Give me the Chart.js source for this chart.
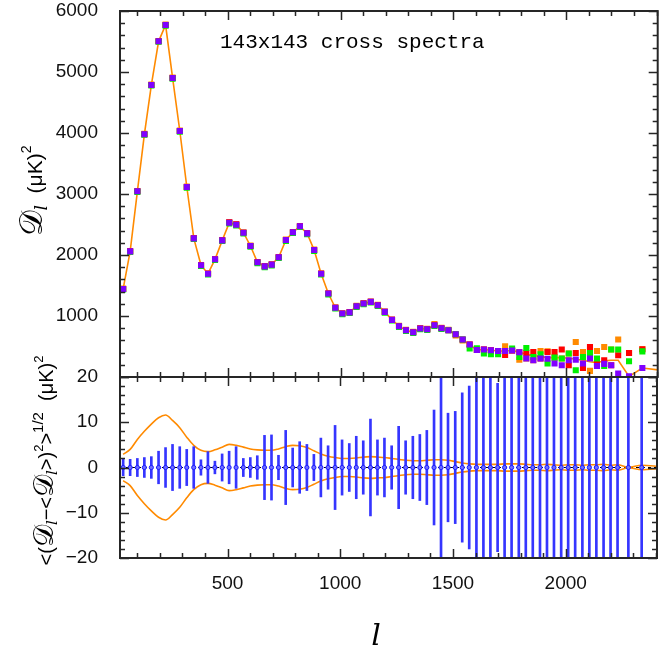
<!DOCTYPE html>
<html>
<head>
<meta charset="utf-8">
<script src="https://cdn.jsdelivr.net/npm/chart.js@4.4.0/dist/chart.umd.min.js"></script>
<style>
  body { margin: 0; background: #fff; }
  #wrap { position: relative; width: 662px; height: 655px; overflow: hidden; }
  .panel { position: absolute; left: 0; width: 662px; }
  #top { top: 0; height: 390px; }
  #bottom { top: 330px; height: 325px; }
</style>
</head>
<body>
<div id="wrap">
  <div class="panel" id="bottom"><canvas id="lowerChart"></canvas></div>
  <div class="panel" id="top"><canvas id="upperChart"></canvas></div>
</div>
<script>
// multipole bin centres
const ells = [37, 68, 100, 131, 162, 194, 225, 256, 288, 319,
  350, 382, 413, 444, 476, 507, 538, 570, 601, 632,
  664, 695, 726, 758, 789, 820, 852, 883, 914, 946,
  977, 1008, 1040, 1071, 1102, 1134, 1165, 1196, 1228, 1259,
  1290, 1322, 1353, 1384, 1416, 1447, 1478, 1510, 1541, 1572,
  1604, 1635, 1666, 1698, 1729, 1760, 1792, 1823, 1854, 1886,
  1917, 1948, 1980, 2011, 2042, 2074, 2105, 2136, 2168, 2199,
  2230, 2278, 2337];
// the orange curves run on to the right edge
const lineEll = ells.concat([2420]);

// upper panel: D_l of each cross spectrum
const dPurple = [1443, 2060, 3044, 3979, 4787, 5503, 5770, 4902, 4033, 3115,
  2273, 1831, 1694, 1929, 2240, 2530, 2497, 2366, 2148, 1880,
  1814, 1842, 1962, 2246, 2372, 2470, 2355, 2082, 1694, 1368,
  1135, 1040, 1060, 1161, 1205, 1232, 1177, 1067, 936, 833,
  767, 734, 795, 783, 849, 800, 767, 701, 614, 532,
  443, 450, 438, 427, 427, 434, 405, 302, 274, 302,
  300, 220, 192, 274, 285, 220, 302, 180, 215, 192,
  55, 10, 148];
const dGreen = [1435, 2050, 3035, 3970, 4778, 5495, 5760, 4892, 4022, 3105,
  2262, 1820, 1683, 1918, 2230, 2518, 2485, 2355, 2136, 1866,
  1800, 1830, 1950, 2232, 2360, 2458, 2342, 2068, 1680, 1355,
  1122, 1028, 1048, 1150, 1193, 1220, 1165, 1055, 925, 822,
  755, 722, 783, 771, 837, 788, 767, 701, 614, 466,
  470, 384, 373, 373, 427, 466, 328, 476, 328, 373,
  220, 318, 302, 384, 110, 328, 394, 302, 180, 450,
  450, 258, 420];
const dRed = [1443, 2060, 3044, 3979, 4787, 5503, 5770, 4902, 4033, 3115,
  2273, 1831, 1694, 1929, 2240, 2536, 2503, 2366, 2148, 1880,
  1814, 1842, 1962, 2246, 2372, 2470, 2355, 2082, 1694, 1368,
  1135, 1040, 1060, 1161, 1205, 1232, 1177, 1067, 936, 833,
  767, 734, 795, 783, 849, 800, 767, 701, 614, 532,
  443, 450, 438, 427, 361, 434, 405, 394, 411, 302,
  411, 411, 450, 192, 394, 150, 493, 230, 274, 192,
  356, 394, 455];
const dOrange = [1450, 2066, 3050, 3985, 4793, 5509, 5776, 4908, 4039, 3121,
  2279, 1837, 1700, 1935, 2246, 2536, 2503, 2372, 2154, 1886,
  1820, 1848, 1968, 2252, 2378, 2476, 2361, 2088, 1700, 1374,
  1141, 1046, 1066, 1167, 1211, 1238, 1183, 1073, 942, 839,
  773, 740, 801, 789, 870, 806, 775, 680, 600, 532,
  443, 450, 438, 427, 504, 434, 285, 302, 274, 427,
  422, 318, 302, 384, 575, 411, 100, 427, 493, 450,
  614, 394, 455];
const dMean = [1443, 2060, 3044, 3979, 4787, 5503, 5770, 4902, 4033, 3115,
  2273, 1831, 1694, 1929, 2240, 2530, 2497, 2366, 2148, 1880,
  1814, 1842, 1962, 2246, 2372, 2470, 2355, 2082, 1694, 1368,
  1135, 1040, 1060, 1161, 1205, 1232, 1177, 1067, 936, 833,
  767, 734, 795, 783, 849, 800, 767, 701, 614, 532,
  443, 450, 438, 427, 427, 434, 411, 370, 350, 335,
  318, 318, 315, 310, 290, 275, 250, 235, 265, 274,
  274, 10, 148, 110];

// lower panel: scatter about the mean
const residMean = [0, 0, 0, 0, 0, 0, 0, 0, 0, 0,
  0, 0, 0, 0, 0, 0, 0, 0, 0, 0,
  0, 0, 0, 0, 0, 0, 0, 0, 0, 0,
  0, 0, 0, 0, 0, 0, 0, 0, 0, 0,
  0, 0, 0, 0, 0, 0, 0, 0, 0, 0,
  0, 0, 0, 0, 0, 0, 0, 0, 0, 0,
  0, 0, 0, 0, 0, 0, 0, 0, 0, 0,
  0, 0, 0];
const residErr = [1.8, 1.8, 2.0, 2.2, 2.4, 3.6, 4.4, 5.1, 4.6, 4.0,
  4.6, 1.7, 3.5, 1.4, 3.0, 3.6, 4.6, 2.0, 2.2, 2.6,
  7.1, 7.2, 2.7, 8.2, 4.3, 5.7, 5.1, 2.9, 6.5, 4.8,
  9.3, 6.1, 5.3, 6.9, 5.9, 10.7, 6.1, 6.5, 4.8, 9.1,
  5.9, 6.9, 7.3, 8.2, 12.7, 30, 12.0, 12.4, 16.5, 18.0,
  30, 30, 30, 18.6, 30, 30, 30, 30, 30, 30,
  30, 30, 30, 30, 30, 30, 30, 30, 30, 30,
  30, 30, 30];
const envUpper = [2.9, 4.0, 6.2, 8.0, 9.6, 11.0, 11.6, 10.4, 8.8, 6.7,
  4.9, 3.8, 3.5, 3.9, 4.5, 5.1, 4.9, 4.5, 4.1, 3.9,
  3.8, 3.8, 4.1, 4.6, 4.9, 4.8, 4.4, 3.7, 3.0, 2.5,
  2.2, 2.0, 2.0, 2.1, 2.3, 2.4, 2.3, 2.2, 2.0, 1.8,
  1.6, 1.5, 1.5, 1.6, 1.7, 1.7, 1.6, 1.3, 1.0, 0.8,
  0.7, 0.7, 0.7, 0.7, 0.8, 0.8, 0.8, 0.7, 0.6, 0.6,
  0.7, 0.6, 0.5, 0.6, 0.6, 0.5, 0.6, 0.6, 0.7, 0.5,
  0.6, 0.05, 0.5, 0.2];
const envLower = [-2.9, -4.0, -6.2, -8.0, -9.6, -11.0, -11.6, -10.4, -8.8, -6.7,
  -4.9, -3.8, -3.5, -3.9, -4.5, -5.1, -4.9, -4.5, -4.1, -3.9,
  -3.8, -3.8, -4.1, -4.6, -4.9, -4.8, -4.4, -3.7, -3.0, -2.5,
  -2.2, -2.0, -2.0, -2.1, -2.3, -2.4, -2.3, -2.2, -2.0, -1.8,
  -1.6, -1.5, -1.5, -1.6, -1.7, -1.7, -1.6, -1.3, -1.0, -0.8,
  -0.7, -0.7, -0.7, -0.7, -0.8, -0.8, -0.8, -0.7, -0.6, -0.6,
  -0.7, -0.6, -0.5, -0.6, -0.6, -0.5, -0.6, -0.6, -0.7, -0.5,
  -0.6, -0.05, -0.5, -0.2];

const xTicks = [500, 1000, 1500, 2000];
const yTopTicks = [1000, 2000, 3000, 4000, 5000, 6000];
const yBotTicks = [-20, -10, 0, 10, 20];

const ORANGE = '#ff8a00';
const tickFont = { family: '"Liberation Sans", Arial, sans-serif', size: 19 };
const plain = v => String(v).replace('-', '−');

function pts(xs, ys) {
  return ys.map((y, i) => ({ x: xs[i], y: y }));
}

function fixedTicks(values) {
  return function (scale) { scale.ticks = values.map(v => ({ value: v })); };
}

// fixed axis width, and keep the tick labels from padding the chart area
function yFit(scale) {
  scale.width = 120;
  scale.paddingTop = 0;
  scale.paddingBottom = 0;
}

// inward ticks on all four sides plus the box
function frameTicks(xMinor, xMajor, yMinor, yMajor) {
  return {
    id: 'frameTicks',
    afterDatasetsDraw(chart) {
      const { ctx, chartArea: a } = chart;
      const xs = chart.scales.x, ys = chart.scales.y;
      ctx.save();
      ctx.strokeStyle = '#262626';
      ctx.lineWidth = 1.5;
      ctx.beginPath();
      for (let v = Math.ceil(xs.min / xMinor) * xMinor; v <= xs.max; v += xMinor) {
        const px = Math.round(xs.getPixelForValue(v)) + 0.5;
        const len = v % xMajor === 0 ? 9 : 5;
        ctx.moveTo(px, a.top); ctx.lineTo(px, a.top + len);
        ctx.moveTo(px, a.bottom); ctx.lineTo(px, a.bottom - len);
      }
      for (let v = Math.ceil(ys.min / yMinor) * yMinor; v <= ys.max + 1e-9; v += yMinor) {
        const py = Math.round(ys.getPixelForValue(v)) + 0.5;
        const len = Math.abs(v % yMajor) < 1e-9 ? 9 : 5;
        ctx.moveTo(a.left, py); ctx.lineTo(a.left + len, py);
        ctx.moveTo(a.right, py); ctx.lineTo(a.right - len, py);
      }
      ctx.stroke();
      ctx.lineWidth = 2;
      ctx.strokeRect(a.left, a.top, a.right - a.left, a.bottom - a.top);
      ctx.restore();
    }
  };
}

// text made of runs: [string, font, baseline shift]
function drawRuns(ctx, x, y, runs, angle, align) {
  ctx.save();
  ctx.translate(x, y);
  ctx.rotate(angle);
  let total = 0;
  runs.forEach(r => { ctx.font = r[1]; total += ctx.measureText(r[0]).width; });
  let cx = align === 'left' ? 0 : -total / 2;
  ctx.fillStyle = '#000';
  ctx.textBaseline = 'alphabetic';
  ctx.textAlign = 'left';
  runs.forEach(r => {
    ctx.font = r[1];
    ctx.fillText(r[0], cx, r[2]);
    cx += ctx.measureText(r[0]).width;
  });
  ctx.restore();
}

const SANS = '"Liberation Sans", Arial, sans-serif';
const SERIF = '"DejaVu Serif", serif';

const upperLabels = {
  id: 'upperLabels',
  afterDraw(chart) {
    const { ctx, chartArea: a } = chart;
    drawRuns(ctx, a.left + 100, a.top + 37, [
      ['143x143 cross spectra', '21px "Liberation Mono", monospace', 0]
    ], 0, 'left');
    drawRuns(ctx, a.left - 78, (a.top + a.bottom) / 2 - 3, [
      ['𝒟', '32px ' + SERIF, 0],
      ['l', 'italic 17px ' + SERIF, 5],
      ['  (μK)', '21px ' + SANS, 0],
      ['2', '14px ' + SANS, -11]
    ], -Math.PI / 2);
  }
};

const lowerLabels = {
  id: 'lowerLabels',
  beforeDatasetsDraw(chart) {
    const { ctx, chartArea: a } = chart;
    const y0 = chart.scales.y.getPixelForValue(0);
    ctx.save();
    ctx.strokeStyle = '#000';
    ctx.lineWidth = 1;
    ctx.setLineDash([3, 3]);
    ctx.beginPath();
    ctx.moveTo(a.left, y0); ctx.lineTo(a.right, y0);
    ctx.stroke();
    ctx.restore();
  },
  afterDraw(chart) {
    const { ctx, chartArea: a } = chart;
    drawRuns(ctx, a.left - 67, (a.top + a.bottom) / 2 - 7, [
      ['<(', '20px ' + SANS, 0],
      ['𝒟', '28px ' + SERIF, 0],
      ['l', 'italic 15px ' + SERIF, 4],
      ['−<', '20px ' + SANS, 0],
      ['𝒟', '28px ' + SERIF, 0],
      ['l', 'italic 15px ' + SERIF, 4],
      ['>)', '20px ' + SANS, 0],
      ['2', '13px ' + SANS, -10],
      ['>', '20px ' + SANS, 0],
      ['1/2', '15px ' + SANS, -10],
      ['  (μK)', '20px ' + SANS, 0],
      ['2', '13px ' + SANS, -10]
    ], -Math.PI / 2);
    drawRuns(ctx, 376, a.bottom + 87, [['l', 'italic 30px ' + SERIF, 0]], 0);
  }
};

function squares(data, color) {
  return {
    type: 'line', data: pts(ells, data), showLine: false,
    pointStyle: 'rect', pointRadius: 4.3, pointHoverRadius: 4.3,
    pointBackgroundColor: color, pointBorderWidth: 0
  };
}

new Chart(document.getElementById('upperChart'), {
  type: 'line',
  data: {
    datasets: [
      squares(dPurple, '#8000ff'),
      squares(dGreen, '#00f000'),
      squares(dRed, '#ff0000'),
      squares(dOrange, ORANGE),
      {
        type: 'line', data: pts(lineEll, dMean), borderColor: ORANGE,
        borderWidth: 1.6, pointRadius: 0, tension: 0
      }
    ]
  },
  options: {
    responsive: true, maintainAspectRatio: false, animation: false,
    events: [],
    layout: { padding: { left: 0, right: 1, top: 11, bottom: 0 } },
    plugins: { legend: { display: false }, tooltip: { enabled: false } },
    scales: {
      x: {
        type: 'linear', min: 23, max: 2405, offset: false,
        afterFit(s) { s.height = 13; },
        grid: { display: false }, border: { display: false },
        ticks: { display: false }
      },
      y: {
        type: 'linear', min: 0, max: 6000,
        afterBuildTicks: fixedTicks(yTopTicks),
        afterFit: yFit,
        grid: { display: false }, border: { display: false },
        ticks: { font: tickFont, color: '#111', padding: 14, callback: plain }
      }
    }
  },
  plugins: [frameTicks(100, 500, 200, 1000), upperLabels]
});

new Chart(document.getElementById('lowerChart'), {
  type: 'line',
  data: {
    datasets: [
      {
        type: 'line', data: pts(ells, residMean), showLine: false,
        pointRadius: 2.1, pointBackgroundColor: '#6f6fff',
        pointBorderColor: '#1c1cff', pointBorderWidth: 1
      },
      {
        type: 'bar', data: ells.map((l, i) => ({ x: l, y: [residMean[i] - residErr[i], residMean[i] + residErr[i]] })),
        backgroundColor: '#3535ff', barThickness: 2, borderWidth: 0
      },
      {
        type: 'line', data: pts(lineEll, envUpper), borderColor: ORANGE,
        borderWidth: 1.6, pointRadius: 0, cubicInterpolationMode: 'monotone'
      },
      {
        type: 'line', data: pts(lineEll, envLower), borderColor: ORANGE,
        borderWidth: 1.6, pointRadius: 0, cubicInterpolationMode: 'monotone'
      }
    ]
  },
  options: {
    responsive: true, maintainAspectRatio: false, animation: false,
    events: [],
    layout: { padding: { left: 0, right: 1, top: 47, bottom: 63 } },
    plugins: { legend: { display: false }, tooltip: { enabled: false } },
    scales: {
      x: {
        type: 'linear', min: 23, max: 2405, offset: false,
        afterBuildTicks: fixedTicks(xTicks),
        afterFit(s) { s.height = 34; },
        grid: { display: false }, border: { display: false },
        ticks: { font: tickFont, color: '#111', padding: 6, maxRotation: 0, callback: plain }
      },
      y: {
        type: 'linear', min: -20, max: 20,
        afterBuildTicks: fixedTicks(yBotTicks),
        afterFit: yFit,
        grid: { display: false }, border: { display: false },
        ticks: { font: tickFont, color: '#111', padding: 14, callback: plain }
      }
    }
  },
  plugins: [frameTicks(100, 500, 2, 10), lowerLabels]
});
</script>
</body>
</html>
